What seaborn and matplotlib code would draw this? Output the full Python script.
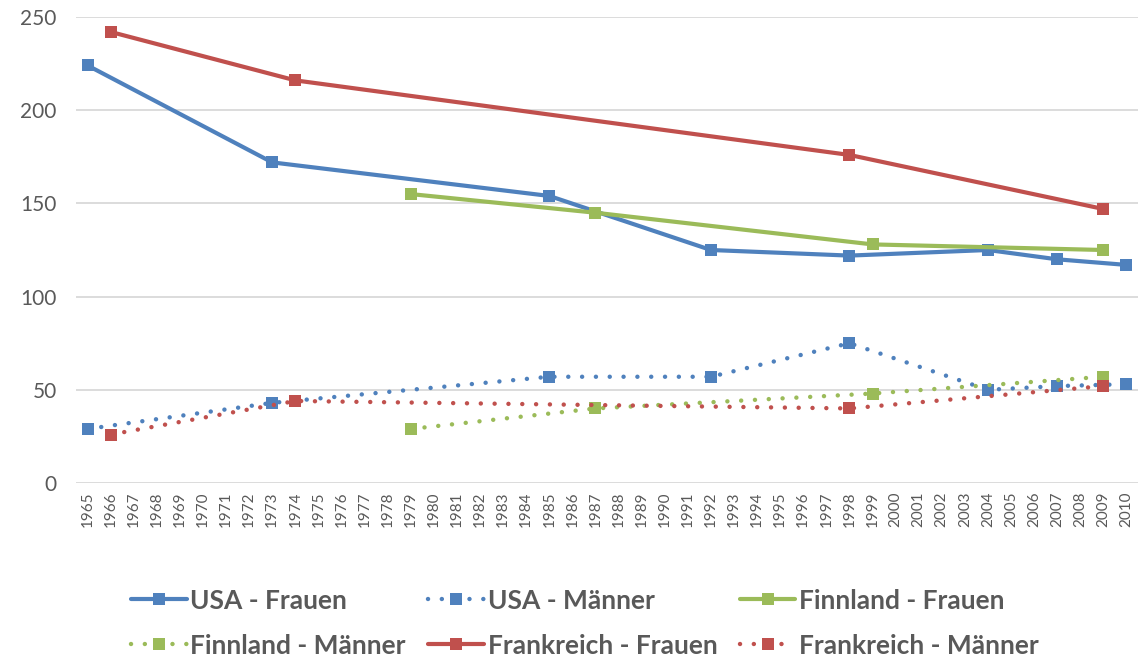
import seaborn as sns
import matplotlib.pyplot as plt
import pandas as pd

# categories on the x axis
years = list(range(1965, 2011))

# values
usa_f_years = [1965, 1973, 1985, 1992, 1998, 2004, 2007, 2010]
usa_f = [224, 172, 154, 125, 122, 125, 120, 117]
usa_m_years = [1965, 1973, 1985, 1992, 1998, 2004, 2007, 2010]
usa_m = [29, 43, 57, 57, 75, 50, 52, 53]
fin_f_years = [1979, 1987, 1999, 2009]
fin_f = [155, 145, 128, 125]
fin_m_years = [1979, 1987, 1999, 2009]
fin_m = [29, 40, 48, 57]
fra_f_years = [1966, 1974, 1998, 2009]
fra_f = [242, 216, 176, 147]
fra_m_years = [1966, 1974, 1998, 2009]
fra_m = [26, 44, 40, 52]

labels = ['USA - Frauen', 'USA - Männer', 'Finnland - Frauen',
          'Finnland - Männer', 'Frankreich - Frauen', 'Frankreich - Männer']

blue = '#4F81BD'
red = '#C0504D'
green = '#9BBB59'
grey = '#595959'

series = [
    (usa_f_years, usa_f, blue, 'solid'),
    (usa_m_years, usa_m, blue, 'dotted'),
    (fin_f_years, fin_f, green, 'solid'),
    (fin_m_years, fin_m, green, 'dotted'),
    (fra_f_years, fra_f, red, 'solid'),
    (fra_m_years, fra_m, red, 'dotted'),
]

sns.set_style('white')
plt.rcParams['font.family'] = ['Lato', 'DejaVu Sans']

fig = plt.figure(figsize=(11.38, 6.59), dpi=100)
ax = fig.add_axes([76 / 1138, 1 - 483 / 659, 1062 / 1138, 466 / 659])

for (yrs, vals, col, kind), lab in zip(series, labels):
    df = pd.DataFrame({'Jahr': yrs, 'Wert': vals})
    if kind == 'solid':
        sns.lineplot(data=df, x='Jahr', y='Wert', ax=ax, color=col, lw=3,
                     marker='s', markersize=8, markeredgewidth=0, label=lab)
    else:
        sns.lineplot(data=df, x='Jahr', y='Wert', ax=ax, color=col, lw=3.2,
                     linestyle=(0, (0.01, 3.1)), dash_capstyle='round',
                     marker='s', markersize=8, markeredgewidth=0, label=lab)

ax.set_xlim(1964.5, 2010.5)
ax.set_ylim(0, 250)
ax.set_yticks([0, 50, 100, 150, 200, 250])
ax.set_xticks(years)
ax.set_xticklabels([str(y) for y in years], rotation=90, fontsize=11, color=grey)
ax.tick_params(axis='y', labelsize=15, colors=grey, length=0, pad=14)
ax.tick_params(axis='x', length=0, pad=6)
ax.set_xlabel('')
ax.set_ylabel('')
ax.grid(axis='y', color='#D9D9D9', linewidth=1.3)
ax.set_axisbelow(True)
sns.despine(ax=ax, left=True, bottom=True)

handles, labs = ax.get_legend_handles_labels()
ax.get_legend().remove()
order = [0, 3, 1, 4, 2, 5]
leg = fig.legend([handles[i] for i in order], [labs[i] for i in order],
                 loc='lower left', bbox_to_anchor=(110 / 1138, -0.03), ncol=3,
                 frameon=False, handlelength=2.1, handletextpad=0.15,
                 columnspacing=0.85, labelspacing=0.8, borderpad=0.3,
                 prop={'size': 19, 'weight': 'bold'})
for t in leg.get_texts():
    t.set_color(grey)

fig.savefig('out.png', dpi=100)
